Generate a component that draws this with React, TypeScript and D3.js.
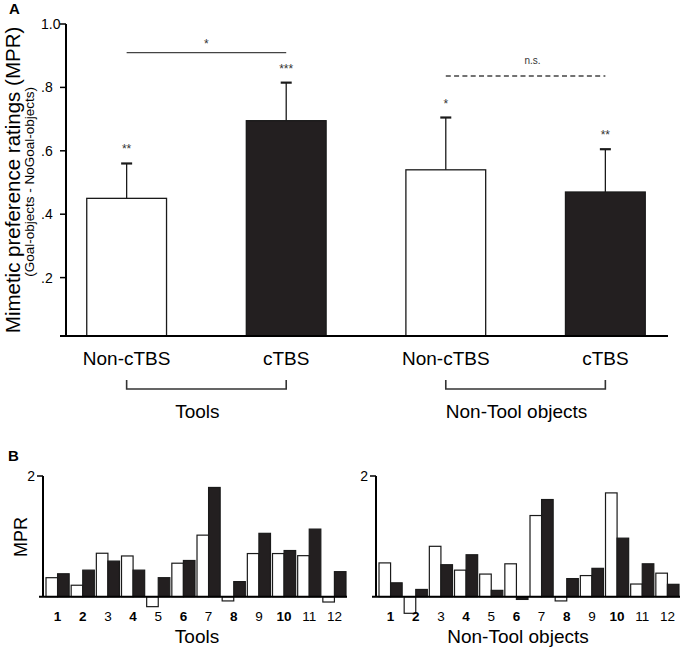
import React, { useEffect } from 'react';
import * as d3 from 'd3';

// Panel A: group means and SEMs
const groups = ['Tools', 'Non-Tool objects'];
const conditions = ['Non-cTBS', 'cTBS'];
const meanMPR = [0.45, 0.695, 0.54, 0.47];
const semMPR = [0.11, 0.12, 0.165, 0.135];
const barStars = ['**', '***', '*', '**'];
const topTicks = [0.2, 0.4, 0.6, 0.8, 1.0];
const topTickLabels = ['.2', '.4', '.6', '.8', '1.0'];
const compareLabels = ['*', 'n.s.'];
const compareLevels = [0.91, 0.836];

// Panel B: per-item MPR
const items = ['1', '2', '3', '4', '5', '6', '7', '8', '9', '10', '11', '12'];
const boldItems = ['1', '2', '4', '6', '8', '10'];
const toolsNonCtbs = [0.315, 0.19, 0.72, 0.675, -0.165, 0.555, 1.02, -0.07, 0.715, 0.715, 0.68, -0.088];
const toolsCtbs = [0.38, 0.44, 0.59, 0.44, 0.315, 0.6, 1.81, 0.25, 1.05, 0.765, 1.12, 0.415];
const objNonCtbs = [0.56, -0.275, 0.835, 0.44, 0.375, 0.545, 1.345, -0.07, 0.35, 1.72, 0.21, 0.39];
const objCtbs = [0.23, 0.12, 0.53, 0.695, 0.105, -0.045, 1.61, 0.3, 0.47, 0.97, 0.545, 0.205];

const W = 686;
const H = 669;
const FONT = '"Liberation Sans", Arial, sans-serif';
const DARK = '#231f20';
const EDGE = '#1a1a1a';

const PanelA: React.FC = () => {
  const floor = 0.016;
  const y = d3.scaleLinear().domain([0, 1]).range([341, 24]);
  const keys = groups.flatMap(g => conditions.map(c => `${g}|${c}`));
  const x = d3.scaleBand<string>().domain(keys).range([66, 666]).paddingInner(0.5).paddingOuter(0.13);
  const bw = x.bandwidth();
  const cx = (i: number) => (x(keys[i]) as number) + bw / 2;
  const axisX = 66;
  const base = y(floor);

  return (
    <g fontFamily={FONT}>
      <text x={9} y={14} fontSize={15} fontWeight="bold">A</text>

      {/* y axis titles */}
      <text transform={`translate(20,${(y(1) + base) / 2}) rotate(-90)`} textAnchor="middle" fontSize={20.5}>
        Mimetic preference ratings (MPR)
      </text>
      <text transform={`translate(34,${(y(1) + base) / 2 + 2}) rotate(-90)`} textAnchor="middle" fontSize={13.5}>
        (Goal-objects - NoGoal-objects)
      </text>

      {/* bars */}
      {keys.map((k, i) => (
        <rect key={k} x={x(k)} y={y(meanMPR[i])} width={bw} height={base - y(meanMPR[i])}
          fill={i % 2 === 0 ? '#fff' : DARK} stroke={EDGE} strokeWidth={1.3} />
      ))}

      {/* error bars + stars */}
      {keys.map((k, i) => {
        const top = y(meanMPR[i] + semMPR[i]);
        return (
          <g key={'e' + k}>
            <line x1={cx(i)} x2={cx(i)} y1={y(meanMPR[i])} y2={top} stroke={EDGE} strokeWidth={1.3} />
            <line x1={cx(i) - 5.5} x2={cx(i) + 5.5} y1={top} y2={top} stroke={EDGE} strokeWidth={2.2} />
            <text x={cx(i)} y={top - 10} textAnchor="middle" fontSize={12} fill="#333">{barStars[i]}</text>
          </g>
        );
      })}

      {/* comparisons */}
      {groups.map((g, gi) => {
        const ly = y(compareLevels[gi]);
        const a = cx(gi * 2);
        const b = cx(gi * 2 + 1);
        const dashed = gi === 1;
        return (
          <g key={'c' + g}>
            <line x1={a} x2={b} y1={ly} y2={ly} stroke="#444" strokeWidth={dashed ? 1.6 : 1.3}
              strokeDasharray={dashed ? '5 3.3' : undefined} />
            <text x={(a + b) / 2 + (dashed ? 7 : 0)} y={ly - (dashed ? 12 : 5)} textAnchor="middle"
              fontSize={dashed ? 10 : 12} fill="#333">{compareLabels[gi]}</text>
          </g>
        );
      })}

      {/* axes */}
      <line x1={axisX} x2={axisX} y1={y(1)} y2={base} stroke="#000" strokeWidth={2} />
      {topTicks.map((t, i) => (
        <g key={'t' + t}>
          <line x1={axisX - 6} x2={axisX} y1={y(t)} y2={y(t)} stroke="#000" strokeWidth={1.5} />
          <text x={41} y={y(t)} dy="0.35em" textAnchor="start" fontSize={14}>{topTickLabels[i]}</text>
        </g>
      ))}
      <line x1={60} x2={668} y1={base} y2={base} stroke="#000" strokeWidth={2} />

      {/* condition labels and group brackets */}
      {keys.map((k, i) => (
        <text key={'l' + k} x={cx(i)} y={365} textAnchor="middle" fontSize={19}>{conditions[i % 2]}</text>
      ))}
      {groups.map((g, gi) => {
        const a = cx(gi * 2);
        const b = cx(gi * 2 + 1);
        return (
          <g key={'b' + g}>
            <path d={`M${a},380V389H${b}V380`} fill="none" stroke="#333" strokeWidth={1.6} />
            <text x={(a + b) / 2 - 9} y={418} textAnchor="middle" fontSize={19}>{g}</text>
          </g>
        );
      })}
    </g>
  );
};

interface ItemPanelProps {
  axisX: number
  right: number
  titleX: number
  title: string
  nonCtbs: number[]
  ctbs: number[]
  showYLabel: boolean
}

const ItemPanel: React.FC<ItemPanelProps> = ({ axisX, right, titleX, title, nonCtbs, ctbs, showYLabel }) => {
  const y = d3.scaleLinear().domain([0, 2]).range([596.7, 476]);
  const x = d3.scaleBand<string>().domain(items).range([axisX + 2, right]).paddingInner(0.08).paddingOuter(0.04);
  const inner = d3.scaleBand<string>().domain(conditions).range([0, x.bandwidth()]);
  const zero = y(0);
  const series = [nonCtbs, ctbs];

  return (
    <g fontFamily={FONT}>
      {showYLabel && (
        <text transform={`translate(26.5,537) rotate(-90)`} textAnchor="middle" fontSize={18}>MPR</text>
      )}
      {items.map((it, i) => (
        <g key={it}>
          {conditions.map((c, ci) => {
            const v = series[ci][i];
            return (
              <rect key={c} x={(x(it) as number) + (inner(c) as number)} y={Math.min(y(v), zero)}
                width={inner.bandwidth()} height={Math.abs(zero - y(v))}
                fill={ci === 0 ? '#fff' : DARK} stroke={EDGE} strokeWidth={1.2} />
            );
          })}
          <text x={(x(it) as number) + x.bandwidth() / 2} y={621} textAnchor="middle" fontSize={13.5}
            fontWeight={boldItems.includes(it) ? 'bold' : 'normal'}>{it}</text>
        </g>
      ))}
      <line x1={axisX} x2={axisX} y1={y(2)} y2={zero} stroke="#000" strokeWidth={2} />
      <line x1={axisX - 6} x2={axisX} y1={y(2)} y2={y(2)} stroke="#000" strokeWidth={1.5} />
      <text x={axisX - 8} y={y(2)} dy="0.35em" textAnchor="end" fontSize={14}>2</text>
      <line x1={axisX - 4} x2={right} y1={zero} y2={zero} stroke="#000" strokeWidth={2} />
      <text x={titleX} y={643} textAnchor="middle" fontSize={19}>{title}</text>
    </g>
  );
};

const App: React.FC = () => {
  useEffect(() => {
    document.body.style.margin = '0';
  }, []);

  return (
    <div style={{ position: 'absolute', left: 0, top: 0 }}>
      <svg width={W} height={H} viewBox={`0 0 ${W} ${H}`} style={{ display: 'block', background: '#fff' }}>
        <PanelA />
        <text x={8} y={461} fontSize={15} fontWeight="bold" fontFamily={FONT}>B</text>
        <ItemPanel axisX={43} right={347} titleX={197} title={groups[0]}
          nonCtbs={toolsNonCtbs} ctbs={toolsCtbs} showYLabel />
        <ItemPanel axisX={376} right={680} titleX={518} title={groups[1]}
          nonCtbs={objNonCtbs} ctbs={objCtbs} showYLabel={false} />
      </svg>
    </div>
  );
};

export default App;
